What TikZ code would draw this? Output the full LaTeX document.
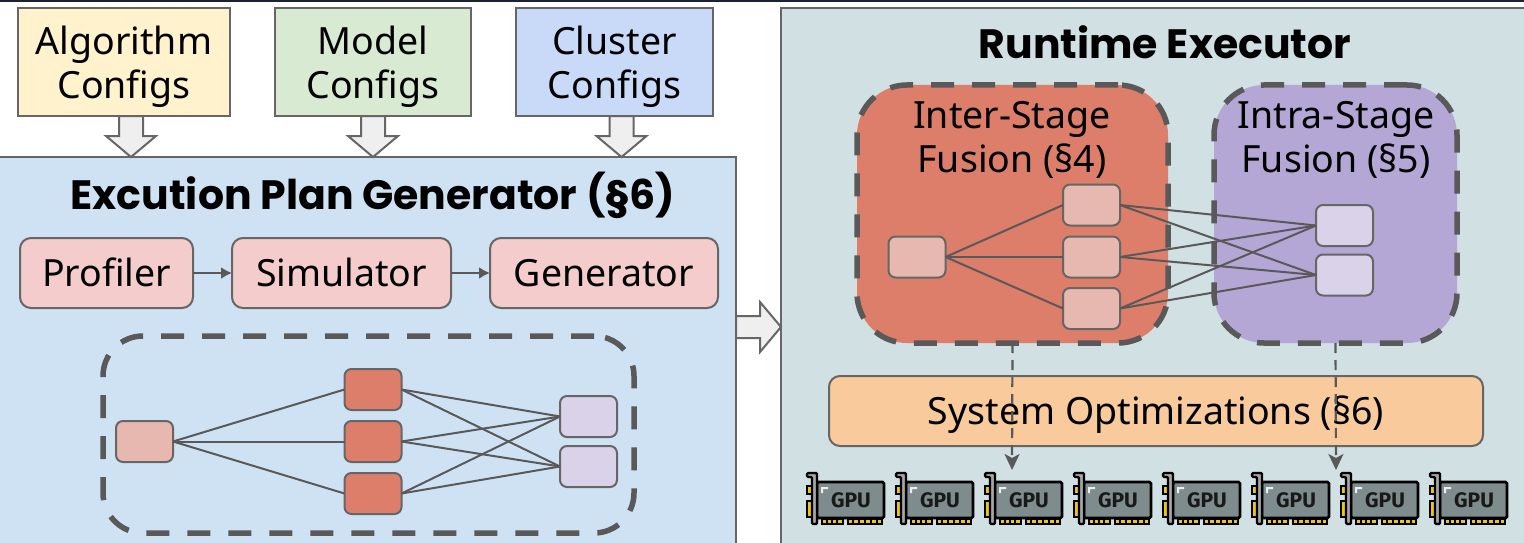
\documentclass[tikz,border=0pt]{standalone}
\usepackage{fontspec}
\setmainfont{Noto Sans}
\newfontfamily\gpufont{Fira Sans}
\newfontfamily\titlefont{Poppins}
\usetikzlibrary{arrows.meta,calc}
\definecolor{cYellow}{HTML}{FFF2CC}
\definecolor{cGreen}{HTML}{D9EAD3}
\definecolor{cBlue}{HTML}{C9DAF8}
\definecolor{cPanel}{HTML}{CFE2F3}
\definecolor{cRun}{HTML}{D0E0E3}
\definecolor{cRed}{HTML}{DD7E6B}
\definecolor{cLRed}{HTML}{E6B8AF}
\definecolor{cPurple}{HTML}{B4A7D6}
\definecolor{cLilac}{HTML}{D9D2E9}
\definecolor{cPink}{HTML}{F4CCCC}
\definecolor{cOrange}{HTML}{F9CB9C}
\definecolor{cArrow}{HTML}{EFEFEF}
\definecolor{cLine}{HTML}{595959}
\definecolor{cEdge}{HTML}{666666}
\definecolor{cGpu}{HTML}{7F8C8D}
\definecolor{cGold}{HTML}{F1C40F}
\definecolor{cTop}{HTML}{1B2333}
\tikzset{
 x=1pt,y=-1pt,
 every node/.style={inner sep=0pt,outer sep=0pt},
 txt/.style={font=\fontsize{37.5}{44}\selectfont,align=center,text=black},
 title/.style={font=\titlefont\bfseries\fontsize{41}{46}\selectfont,text=black},
 panel/.style={draw=cEdge,line width=2pt},
 step box/.style={draw=cEdge,line width=2pt,rounded corners=11pt,fill=cPink,txt,text height=30pt,text depth=4pt},
 mini/.style={draw=cEdge,line width=2pt,rounded corners=7pt,minimum width=57pt,minimum height=41pt},
 group/.style={draw=cLine,line width=5.5pt,dash pattern=on 23pt off 18pt,rounded corners=50pt},
 wire/.style={draw=cLine,line width=2pt},
 flow/.style={draw=cLine,line width=2pt,-{Latex[length=11pt,width=12pt]}},
 dflow/.style={draw=cLine,line width=2.2pt,dash pattern=on 10pt off 7pt,-{Stealth[length=16pt,width=15pt,inset=4pt]}},
 block/.style={draw=cEdge,fill=cArrow,line width=2pt,line join=miter},
 gpu/.pic={
  \draw[black,line width=2.6pt,fill=cGold] (1,14) rectangle (6,22) (1,29) rectangle (6,45);
  \draw[black,line width=2.2pt,fill=cGold] (16,47) rectangle (37,52) (42,47) rectangle (76,52);
  \draw[black,line width=1.6pt] (21,47)--(21,52) (26,47)--(26,52) (31,47)--(31,52) (47,47)--(47,52) (53,47)--(53,52) (59,47)--(59,52) (65,47)--(65,52) (71,47)--(71,52);
  \draw[black,line width=2.8pt,fill=cGpu,rounded corners=1.5pt] (11,10) rectangle (78,46);
  \fill[white!85!cGpu] (15,21) -- (15,15) -- (22,15) -- (22,17) -- (17,17) -- (17,21) -- cycle;
  \draw[black,line width=2.4pt,fill=gray!70,rounded corners=1.2pt] (1,1) -- (11,1) -- (11,52) -- (6,52) -- (6,5) -- (1,5) -- cycle;
  \node[font=\gpufont\bfseries\fontsize{21}{21}\selectfont,text=black!90] (-lab) at (45,28.5) {GPU};
 }
}
\newcommand{\blockdown}[2]{\draw[block] ([xshift=#1-12pt]#2.south) -- ++(0,20) -- ++(-13,0) -- ++(25,21) -- ++(25,-21) -- ++(-13,0) -- ++(0,-20) -- cycle;}
\begin{document}
\begin{tikzpicture}
\useasboundingbox (0,0) rectangle (1524,543);
\clip (0,0) rectangle (1524,543);
\fill[white] (0,0) rectangle (1524,543);
\fill[cTop] (0,0) rectangle (1524,2.5);
% top config boxes
\node[draw=cEdge,line width=2pt,fill=cYellow,minimum width=212pt,minimum height=108pt] (algo) at (124,62) {};
\node[draw=cEdge,line width=2pt,fill=cGreen,minimum width=196pt,minimum height=108pt] (model) at (373,62) {};
\node[draw=cEdge,line width=2pt,fill=cBlue,minimum width=197pt,minimum height=108pt] (clus) at (614.5,62) {};
\node[txt] (talgo) at (124,67) {Algorithm\\Configs};
\node[txt] (tmodel) at (373,67) {Model\\Configs};
\node[txt] (tclus) at (614.5,67) {Cluster\\Configs};
% panels
\node[panel,fill=cPanel,minimum width=748pt,minimum height=398pt] (plan) at (362,356) {};
\node[panel,fill=cRun,minimum width=759pt,minimum height=547pt] (run) at (1160.5,281.5) {};
\blockdown{7pt}{algo}
\blockdown{0pt}{model}
\blockdown{7pt}{clus}
\coordinate (ra) at (736,316);
\draw[block] (ra) -- ++(24,0) -- ++(0,-14) -- ++(21,25) -- ++(-21,25) -- ++(0,-14) -- ++(-24,0) -- cycle;
\node[title] (tplan) at (373,195) {Excution Plan Generator (§6)};
\node[title] (trun) at (1165,42) {Runtime Executor};
% generator row
\node[step box,minimum width=173pt,minimum height=70pt] (prof) at (106.5,273) {Profiler};
\node[step box,minimum width=219pt,minimum height=70pt] (sim) at (341.5,273) {Simulator};
\node[step box,minimum width=228pt,minimum height=70pt] (gen) at (604,273) {Generator};
\draw[flow] (prof) -- (sim);
\draw[flow] (sim) -- (gen);
% lower plan graph
\node[group,rounded corners=40pt,minimum width=531pt,minimum height=197pt] (pgroup) at (368.5,434.5) {};
\node[mini,fill=cLRed] (p0) at (144.5,441.5) {};
\node[mini,fill=cRed] (p1) at (373,389.5) {};
\node[mini,fill=cRed] (p2) at (373,441.5) {};
\node[mini,fill=cRed] (p3) at (373,493.5) {};
\node[mini,fill=cLilac] (p4) at (588.5,416.5) {};
\node[mini,fill=cLilac] (p5) at (588.5,466.5) {};
\foreach \a in {p1,p2,p3} {
 \draw[wire] (p0.east) -- (\a.west);
 \draw[wire] (\a.east) -- (p4.west);
 \draw[wire] (\a.east) -- (p5.west);
}
% runtime groups
\node[group,fill=cRed,minimum width=311pt,minimum height=258pt] (inter) at (1012.5,214) {};
\node[group,fill=cPurple,minimum width=243pt,minimum height=258pt] (intra) at (1335.5,214) {};
\node[txt] (tinter) at (1012,140) {Inter-Stage\\Fusion (§4)};
\node[txt] (tintra) at (1336,140) {Intra-Stage\\Fusion (§5)};
\node[mini,fill=cLRed] (r0) at (917,257) {};
\node[mini,fill=cLRed] (r1) at (1091.5,205) {};
\node[mini,fill=cLRed] (r2) at (1091.5,257) {};
\node[mini,fill=cLRed] (r3) at (1091.5,308.5) {};
\node[mini,fill=cLilac] (r4) at (1344.5,225.5) {};
\node[mini,fill=cLilac] (r5) at (1344.5,275) {};
\foreach \a in {r1,r2,r3} {
 \draw[wire] (r0.east) -- (\a.west);
 \draw[wire] (\a.east) -- (r4.west);
 \draw[wire] (\a.east) -- (r5.west);
}
% system optimizations
\node[step box,fill=cOrange,minimum width=654pt,minimum height=70pt] (sys) at (1156,411) {System Optimizations (§6)};
% GPUs
\foreach \i in {0,...,7} {
 \pic (g\i) at ({806+89*\i},472) {gpu};
}
\coordinate (g1end) at (1012,470);
\coordinate (g2end) at (1336,470);
\draw[dflow] (inter.south) -- (g1end);
\draw[dflow] (intra.south) -- (g2end);
\end{tikzpicture}
\end{document}
